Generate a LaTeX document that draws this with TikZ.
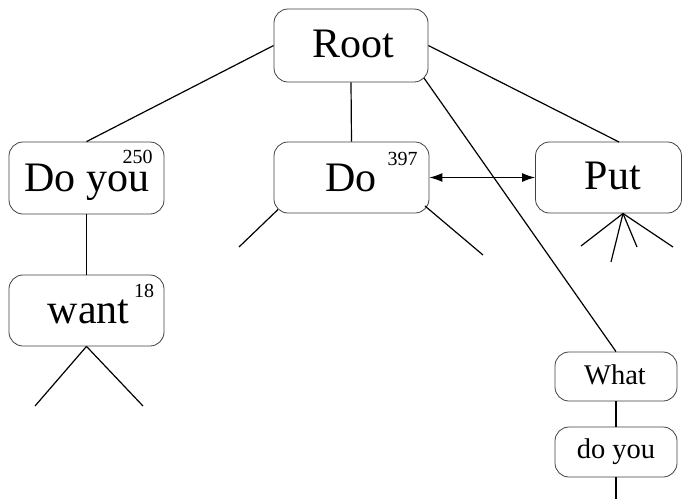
\documentclass[tikz,border=0pt]{standalone}
\usepackage{fontspec}
\setmainfont{Liberation Serif}
\usetikzlibrary{arrows.meta,calc}
\begin{document}
\begin{tikzpicture}[x=1pt,y=-1pt,
  box/.style={draw=black!75,line width=0.8pt,rounded corners=14pt,inner sep=0pt},
  big/.style={inner sep=0pt,anchor=base,font=\fontsize{42}{42}\selectfont},
  small/.style={inner sep=0pt,anchor=base,font=\fontsize{28.5}{28.5}\selectfont},
  count/.style={inner sep=0pt,anchor=base,font=\fontsize{20}{20}\selectfont},
  link/.style={line width=1.2pt,black}]
\useasboundingbox (0,0) rectangle (683,499);
% boxes
\node[box,minimum width=154pt,minimum height=73pt] (Root) at (351,45.5) {};
\node[box,minimum width=155pt,minimum height=72pt] (Doyou) at (86.5,178) {};
\node[box,minimum width=155pt,minimum height=71pt] (Do) at (351.5,177.5) {};
\node[box,minimum width=146pt,minimum height=71pt] (Put) at (608.5,177.5) {};
\node[box,minimum width=155pt,minimum height=71pt] (want) at (86.5,310.5) {};
\node[box,minimum width=122pt,minimum height=49pt] (What) at (616,376.5) {};
\node[box,minimum width=122pt,minimum height=50pt] (doyou2) at (616,452) {};
% texts
\node[big] (tRoot) at (353,57) {Root};
\node[big] (tDoyou) at (87,191) {Do you};
\node[big] (tDo) at (351,191) {Do};
\node[big] (tPut) at (613,189.5) {Put};
\node[big] (twant) at (88.5,323) {want};
\node[small] (tWhat) at (615,384) {What};
\node[small] (tdoyou2) at (616,458) {do you};
\node[count] (c250) at (137.5,163) {250};
\node[count] (c397) at (402.5,165) {397};
\node[count] (c18) at (144,297) {18};
% coordinates
\coordinate (rootSE) at (423.9,77.9);
\coordinate (putTop) at (619,142);
\coordinate (doL) at (278,209.5);
\coordinate (doLend) at (239,247);
\coordinate (doR) at (425,206);
\coordinate (doRend) at (483,255);
\coordinate (putApex) at (623,213.5);
\coordinate (p1) at (581,246);
\coordinate (p2) at (611,262);
\coordinate (p3) at (637,247);
\coordinate (p4) at (673,247);
\coordinate (wL) at (35,406);
\coordinate (wR) at (143,406);
\coordinate (bottomEnd) at (616,499);
% connectors
\draw[link] (Root.west) -- (Doyou.north);
\draw[link] (Root.south) -- (Do.north);
\draw[link] (Root.east) -- (putTop);
\draw[link] (rootSE) -- (What.north);
\draw[link] (Doyou.south) -- (want.north);
\draw[link] (What.south) -- (doyou2.north);
\draw[link] (doyou2.south) -- (bottomEnd);
\draw[link] (doL) -- (doLend);
\draw[link] (doR) -- (doRend);
\draw[link] (putApex) -- (p1);
\draw[link] (putApex) -- (p2);
\draw[link] (putApex) -- (p3);
\draw[link] (putApex) -- (p4);
\draw[link] (want.south) -- (wL);
\draw[link] (want.south) -- (wR);
\draw[link,{Latex[length=13pt,width=9pt]}-{Latex[length=13pt,width=9pt]}] (Do.east) -- (Put.west);
\end{tikzpicture}
\end{document}
